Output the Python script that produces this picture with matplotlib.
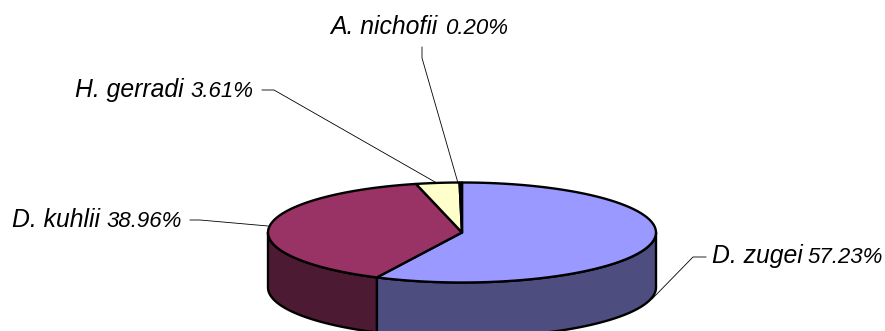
import numpy as np
import matplotlib
matplotlib.use("Agg")
from matplotlib import pyplot as plt
from matplotlib.patches import Polygon

species = ["D. zugei", "D. kuhlii", "H. gerradi", "A. nichofii"]
shares = [57.23, 38.96, 3.61, 0.20]
top_colors = ["#9999FF", "#993366", "#FFFFCC", "#CCFFFF"]
side_colors = ["#4D4D80", "#4D1A33", "#80806A", "#668080"]

# pie geometry, in pixels
cx, cy = 462, 232.5
rx, ry = 194, 50
depth = 55

# label: right end of the name, left start of the percentage, baseline y, leader line
label_pos = {
    "D. zugei": (803, 807, 263, [(652, 299), (693, 257), (706, 257)]),
    "D. kuhlii": (100, 106, 227, [(190, 220), (200, 220), (268, 226)]),
    "H. gerradi": (184, 190, 97, [(262, 90), (274, 90), (435, 182)]),
    "A. nichofii": (437, 445, 33.5, [(422, 47), (422, 58), (458, 183)]),
}


def rim(a0, a1, n=80):
    # angles run clockwise from the top of the ellipse
    t = np.radians(np.linspace(a0, a1, n))
    return np.column_stack([cx + rx * np.sin(t), cy - ry * np.cos(t)])


fig = plt.figure(figsize=(8.85, 3.31), dpi=100)
ax = fig.add_axes([0, 0, 1, 1])
ax.set_xlim(0, 885)
ax.set_ylim(331, 0)
ax.axis("off")

edges = np.concatenate([[0], np.cumsum(shares)]) * 3.6
edges[-1] = 360

# side wall first, only the front half of the ellipse shows
for i in range(len(shares)):
    a0, a1 = max(edges[i], 90), min(edges[i + 1], 270)
    if a0 >= a1:
        continue
    pts = rim(a0, a1)
    wall = np.vstack([pts, (pts + [0, depth])[::-1]])
    ax.add_patch(Polygon(wall, closed=True, fc=side_colors[i], ec="black", lw=1.7,
                         joinstyle="round"))

# top face
for i in range(len(shares)):
    pts = np.vstack([[cx, cy], rim(edges[i], edges[i + 1])])
    ax.add_patch(Polygon(pts, closed=True, fc=top_colors[i], ec="black", lw=1.7,
                         joinstyle="round"))

for name, share in zip(species, shares):
    x_name, x_pct, y, line = label_pos[name]
    ax.plot(*zip(*line), color="black", lw=0.6, solid_joinstyle="miter")
    ax.text(x_name, y, name, ha="right", va="baseline", family="Liberation Sans",
            style="italic", fontsize=17.8, color="black")
    ax.text(x_pct, y, f"{share:.2f}%", ha="left", va="baseline",
            family="Liberation Sans", style="italic", fontsize=16, color="black")

fig.savefig("out.png", dpi=100)
